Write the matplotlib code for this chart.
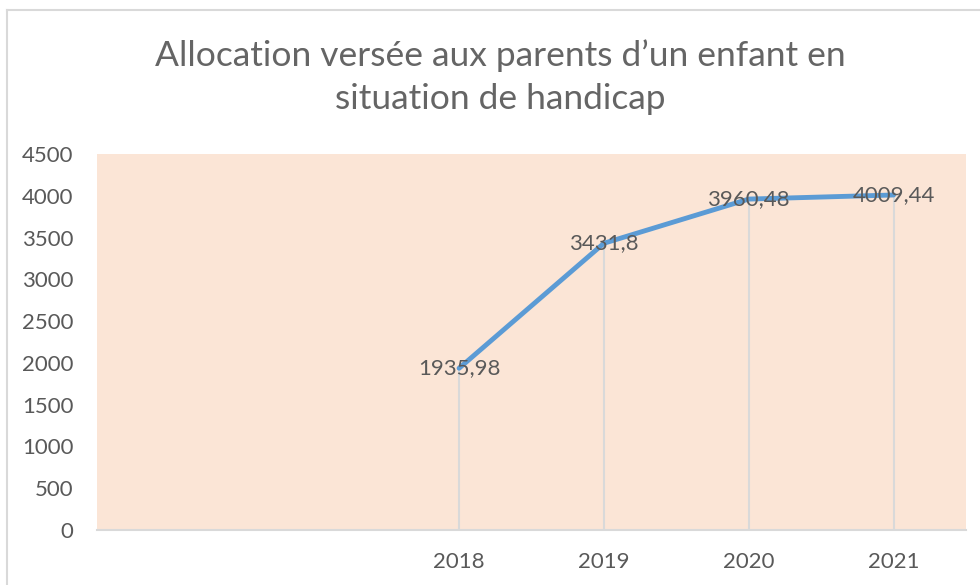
import matplotlib
matplotlib.use("Agg")
import matplotlib.pyplot as plt
from matplotlib.lines import Line2D
import numpy as np

# data (two empty category slots before 2018, as in the source sheet)
categories = ["", "", "2018", "2019", "2020", "2021"]
values = [np.nan, np.nan, 1935.98, 3431.8, 3960.48, 4009.44]
value_labels = ["", "", "1935,98", "3431,8", "3960,48", "4009,44"]
y_ticks = [0, 500, 1000, 1500, 2000, 2500, 3000, 3500, 4000, 4500]

title = "Allocation versée aux parents d’un enfant en\nsituation de handicap"

text_color = "#595959"
grid_color = "#D9D9D9"
plot_bg = "#FBE5D6"
line_color = "#5B9BD5"

plt.rcParams["font.family"] = ["Lato", "DejaVu Sans"]

fig = plt.figure(figsize=(9.8, 5.85), dpi=100)
ax = fig.add_axes([97 / 980, 1 - 530 / 585, (966 - 97) / 980, (530 - 154) / 585])
ax.set_facecolor(plot_bg)

x = np.arange(len(categories))

# drop lines from points down to the axis
for xi, v in zip(x, values):
    if not np.isnan(v):
        ax.plot([xi, xi], [0, v], color=grid_color, linewidth=1.5, zorder=1)

ax.plot(x, values, color=line_color, linewidth=3.5, solid_capstyle="round", zorder=2)

for xi, v, lab in zip(x, values, value_labels):
    if lab:
        ax.text(xi, v, lab, ha="center", va="center", fontsize=16,
                color=text_color, zorder=3)

ax.set_xlim(-0.5, len(categories) - 0.5)
ax.set_ylim(0, 4500)
ax.set_xticks(x)
ax.set_xticklabels(categories)
ax.set_yticks(y_ticks)

for side in ["top", "right", "left"]:
    ax.spines[side].set_visible(False)
ax.spines["bottom"].set_color(grid_color)
ax.spines["bottom"].set_linewidth(1.5)

ax.tick_params(axis="both", length=0, labelsize=16, labelcolor=text_color)
ax.tick_params(axis="y", pad=17)
ax.tick_params(axis="x", pad=16)

fig.text(500 / 980, 0.868, title, ha="center", va="center", fontsize=25.5,
         color="#656565", linespacing=1.4)

# chart area border (left and top edges are visible)
fig.add_artist(Line2D([7 / 980, 7 / 980], [0, 1 - 10 / 585], color=grid_color, linewidth=1.5))
fig.add_artist(Line2D([7 / 980, 1], [1 - 10 / 585, 1 - 10 / 585], color=grid_color, linewidth=1.5))

fig.savefig("out.png", dpi=100, facecolor="white")
plt.close(fig)
